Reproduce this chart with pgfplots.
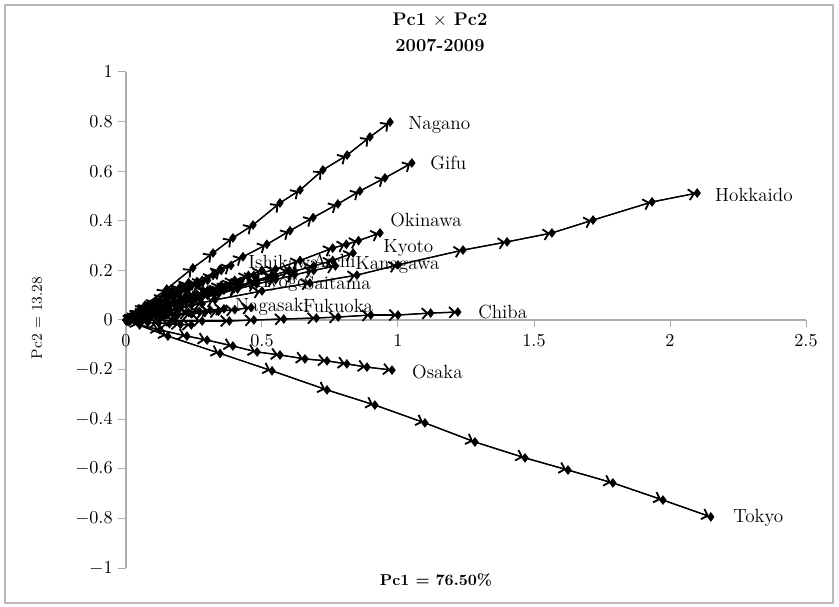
\documentclass[border=0pt]{standalone}
\usepackage{pgfplots}
\pgfplotsset{compat=1.18}
\usetikzlibrary{decorations.pathreplacing,arrows.meta}
\tikzset{
  seg/.style={
    line width=0.7bp, black, mark=none,
    postaction={decorate},
    decoration={show path construction,
      lineto code={\draw[line width=0.8bp,-{Straight Barb[length=3.2bp,width=6.5bp,line width=1.1bp]},shorten >=1.2bp]
        (\tikzinputsegmentfirst) -- (\tikzinputsegmentlast);}}
  },
  mk/.style={only marks, mark=diamond*, mark size=2.6bp, mark options={fill=black,draw=black,line width=0.4bp}},
  lab/.style={anchor=west, inner sep=0pt, font=\fontsize{11.5}{13}\selectfont}
}
\newcommand\ser[1]{\addplot[seg] coordinates {#1};\addplot[mk] coordinates {#1};}
\begin{document}
\begin{tikzpicture}
\path (-75.6bp,-23.4bp) rectangle (427.8bp,340.8bp);
\draw[gray!55, line width=0.8bp] (-72.6bp,-21bp) rectangle (424.2bp,337.8bp);
\begin{axis}[
  at={(0,0)}, anchor=south west,
  scale only axis, width=408bp, height=297.6bp,
  xmin=0, xmax=2.5, ymin=-1, ymax=1,
  axis x line=middle, axis y line=left,
  axis line style={gray!65, -, line width=0.7bp},
  xtick={0,0.5,1,1.5,2,2.5},
  ytick={-1,-0.8,-0.6,-0.4,-0.2,0,0.2,0.4,0.6,0.8,1},
  tick align=outside, major tick length=4.5bp,
  tick style={gray!65, line width=0.6bp},
  hide obscured x ticks=false, hide obscured y ticks=false,
  tick label style={font=\fontsize{10.5}{12}\selectfont},
  xticklabel style={yshift=-1bp},
  clip=false,
]
% Nagano
\ser{(0,0) (0.07,0.06) (0.15,0.125) (0.246,0.21) (0.32,0.27) (0.393,0.331) (0.467,0.383) (0.566,0.472) (0.64,0.524) (0.724,0.605) (0.813,0.665) (0.897,0.738) (0.971,0.798)}
% Gifu
\ser{(0,0) (0.088,0.055) (0.173,0.105) (0.261,0.155) (0.346,0.205) (0.43,0.255) (0.518,0.305) (0.603,0.36) (0.688,0.413) (0.779,0.468) (0.86,0.52) (0.952,0.573) (1.051,0.633)}
% Okinawa
\ser{(0,0) (0.07,0.03) (0.15,0.06) (0.23,0.09) (0.31,0.12) (0.39,0.15) (0.47,0.18) (0.55,0.205) (0.64,0.24) (0.76,0.29) (0.81,0.305) (0.855,0.32) (0.934,0.351)}
% Kyoto
\ser{(0,0) (0.06,0.02) (0.13,0.045) (0.2,0.065) (0.27,0.09) (0.34,0.11) (0.41,0.13) (0.48,0.155) (0.55,0.175) (0.62,0.197) (0.69,0.218) (0.76,0.24) (0.835,0.27)}
% Kanagawa
\ser{(0,0) (0.06,0.022) (0.13,0.045) (0.2,0.065) (0.27,0.085) (0.34,0.105) (0.41,0.125) (0.48,0.145) (0.55,0.163) (0.62,0.182) (0.69,0.2) (0.77,0.218)}
% Hokkaido
\ser{(0,0) (0.162,0.04) (0.327,0.081) (0.5,0.117) (0.676,0.149) (0.849,0.181) (1.0,0.222) (1.239,0.282) (1.401,0.315) (1.566,0.351) (1.717,0.403) (1.934,0.476) (2.10,0.512)}
% Chiba
\ser{(0,0) (0.08,0.0) (0.18,-0.004) (0.28,-0.004) (0.38,-0.004) (0.47,0.0) (0.58,0.004) (0.70,0.008) (0.78,0.012) (0.90,0.02) (1.0,0.02) (1.12,0.028) (1.22,0.032)}
% Osaka
\ser{(0,0) (0.05,-0.02) (0.125,-0.04) (0.224,-0.065) (0.298,-0.081) (0.393,-0.105) (0.482,-0.129) (0.566,-0.141) (0.658,-0.157) (0.739,-0.165) (0.812,-0.177) (0.886,-0.19) (0.978,-0.202)}
% Tokyo
\ser{(0,0) (0.154,-0.065) (0.346,-0.135) (0.537,-0.205) (0.739,-0.282) (0.915,-0.343) (1.099,-0.415) (1.283,-0.492) (1.467,-0.556) (1.625,-0.605) (1.790,-0.657) (1.974,-0.726) (2.15,-0.794)}
% Ishikawa
\ser{(0,0) (0.04,0.025) (0.08,0.05) (0.12,0.07) (0.16,0.095) (0.2,0.115) (0.24,0.14) (0.28,0.16) (0.32,0.18) (0.35,0.2) (0.386,0.22)}
% Aichi
\ser{(0,0) (0.05,0.02) (0.1,0.04) (0.15,0.06) (0.2,0.08) (0.25,0.1) (0.3,0.12) (0.35,0.14) (0.4,0.16) (0.45,0.18) (0.5,0.2)}
% Saitama
\ser{(0,0) (0.06,0.02) (0.12,0.04) (0.18,0.06) (0.24,0.08) (0.3,0.1) (0.36,0.12) (0.42,0.14) (0.48,0.16) (0.54,0.18) (0.6,0.2)}
% Hyogo
\ser{(0,0) (0.04,0.015) (0.08,0.03) (0.12,0.045) (0.16,0.06) (0.2,0.075) (0.24,0.09) (0.28,0.105) (0.32,0.12) (0.37,0.138) (0.42,0.155)}
% Nagasaki
\ser{(0,0) (0.03,0.005) (0.07,0.01) (0.11,0.015) (0.15,0.02) (0.19,0.025) (0.23,0.03) (0.27,0.035) (0.31,0.04) (0.36,0.045)}
% Fukuoka
\ser{(0,0) (0.04,0.005) (0.09,0.01) (0.14,0.015) (0.19,0.02) (0.24,0.025) (0.29,0.03) (0.34,0.035) (0.4,0.042) (0.46,0.05)}
% small prefectures
\ser{(0,0) (0.03,0.02) (0.07,0.04) (0.11,0.06) (0.15,0.085) (0.19,0.105) (0.23,0.125) (0.27,0.145) (0.3,0.16)}
\ser{(0,0) (0.03,0.015) (0.06,0.03) (0.1,0.045) (0.14,0.06) (0.18,0.075) (0.22,0.09) (0.26,0.105) (0.3,0.115) (0.34,0.13)}
\ser{(0,0) (0.025,0.02) (0.05,0.04) (0.08,0.06) (0.11,0.08) (0.14,0.1) (0.17,0.12) (0.2,0.135) (0.23,0.15)}
\ser{(0,0) (0.04,0.01) (0.08,0.02) (0.12,0.03) (0.16,0.04) (0.2,0.05) (0.24,0.06) (0.28,0.065)}
\ser{(0,0) (0.03,0.01) (0.06,0.02) (0.09,0.035) (0.12,0.045) (0.15,0.055) (0.18,0.065) (0.21,0.075)}
\ser{(0,0) (0.04,-0.005) (0.08,-0.01) (0.12,-0.012) (0.16,-0.015) (0.2,-0.018) (0.24,-0.02)}
% labels
\node[lab] at (axis cs:1.037,0.786) {Nagano};
\node[lab] at (axis cs:1.118,0.633) {Gifu};
\node[lab] at (axis cs:2.165,0.504) {Hokkaido};
\node[lab] at (axis cs:0.971,0.403) {Okinawa};
\node[lab] at (axis cs:0.945,0.29) {Kyoto};
\node[lab] at (axis cs:0.842,0.222) {Kanagawa};
\node[lab] at (axis cs:0.449,0.235) {Ishikawa};
\node[lab] at (axis cs:0.686,0.24) {Aichi};
\node[lab] at (axis cs:0.654,0.15) {Saitama};
\node[lab] at (axis cs:0.474,0.15) {Hyogo};
\node[lab] at (axis cs:1.294,0.032) {Chiba};
\node[lab] at (axis cs:0.40,0.052) {Nagasaki};
\node[lab] at (axis cs:0.65,0.056) {Fukuoka};
\node[lab] at (axis cs:1.051,-0.21) {Osaka};
\node[lab] at (axis cs:2.232,-0.798) {Tokyo};
\end{axis}
\node[font=\bfseries\fontsize{11}{13}\selectfont] at (188.4bp,328.8bp) {Pc1 $\times$ Pc2};
\node[font=\bfseries\fontsize{11}{13}\selectfont] at (188.4bp,313.8bp) {2007-2009};
\node[rotate=90, font=\fontsize{9}{11}\selectfont] at (-53.4bp,150bp) {Pc2 = 13.28};
\node[font=\bfseries\fontsize{9.5}{11}\selectfont] at (186bp,-7.2bp) {Pc1 = 76.50\%};
\end{tikzpicture}
\end{document}
